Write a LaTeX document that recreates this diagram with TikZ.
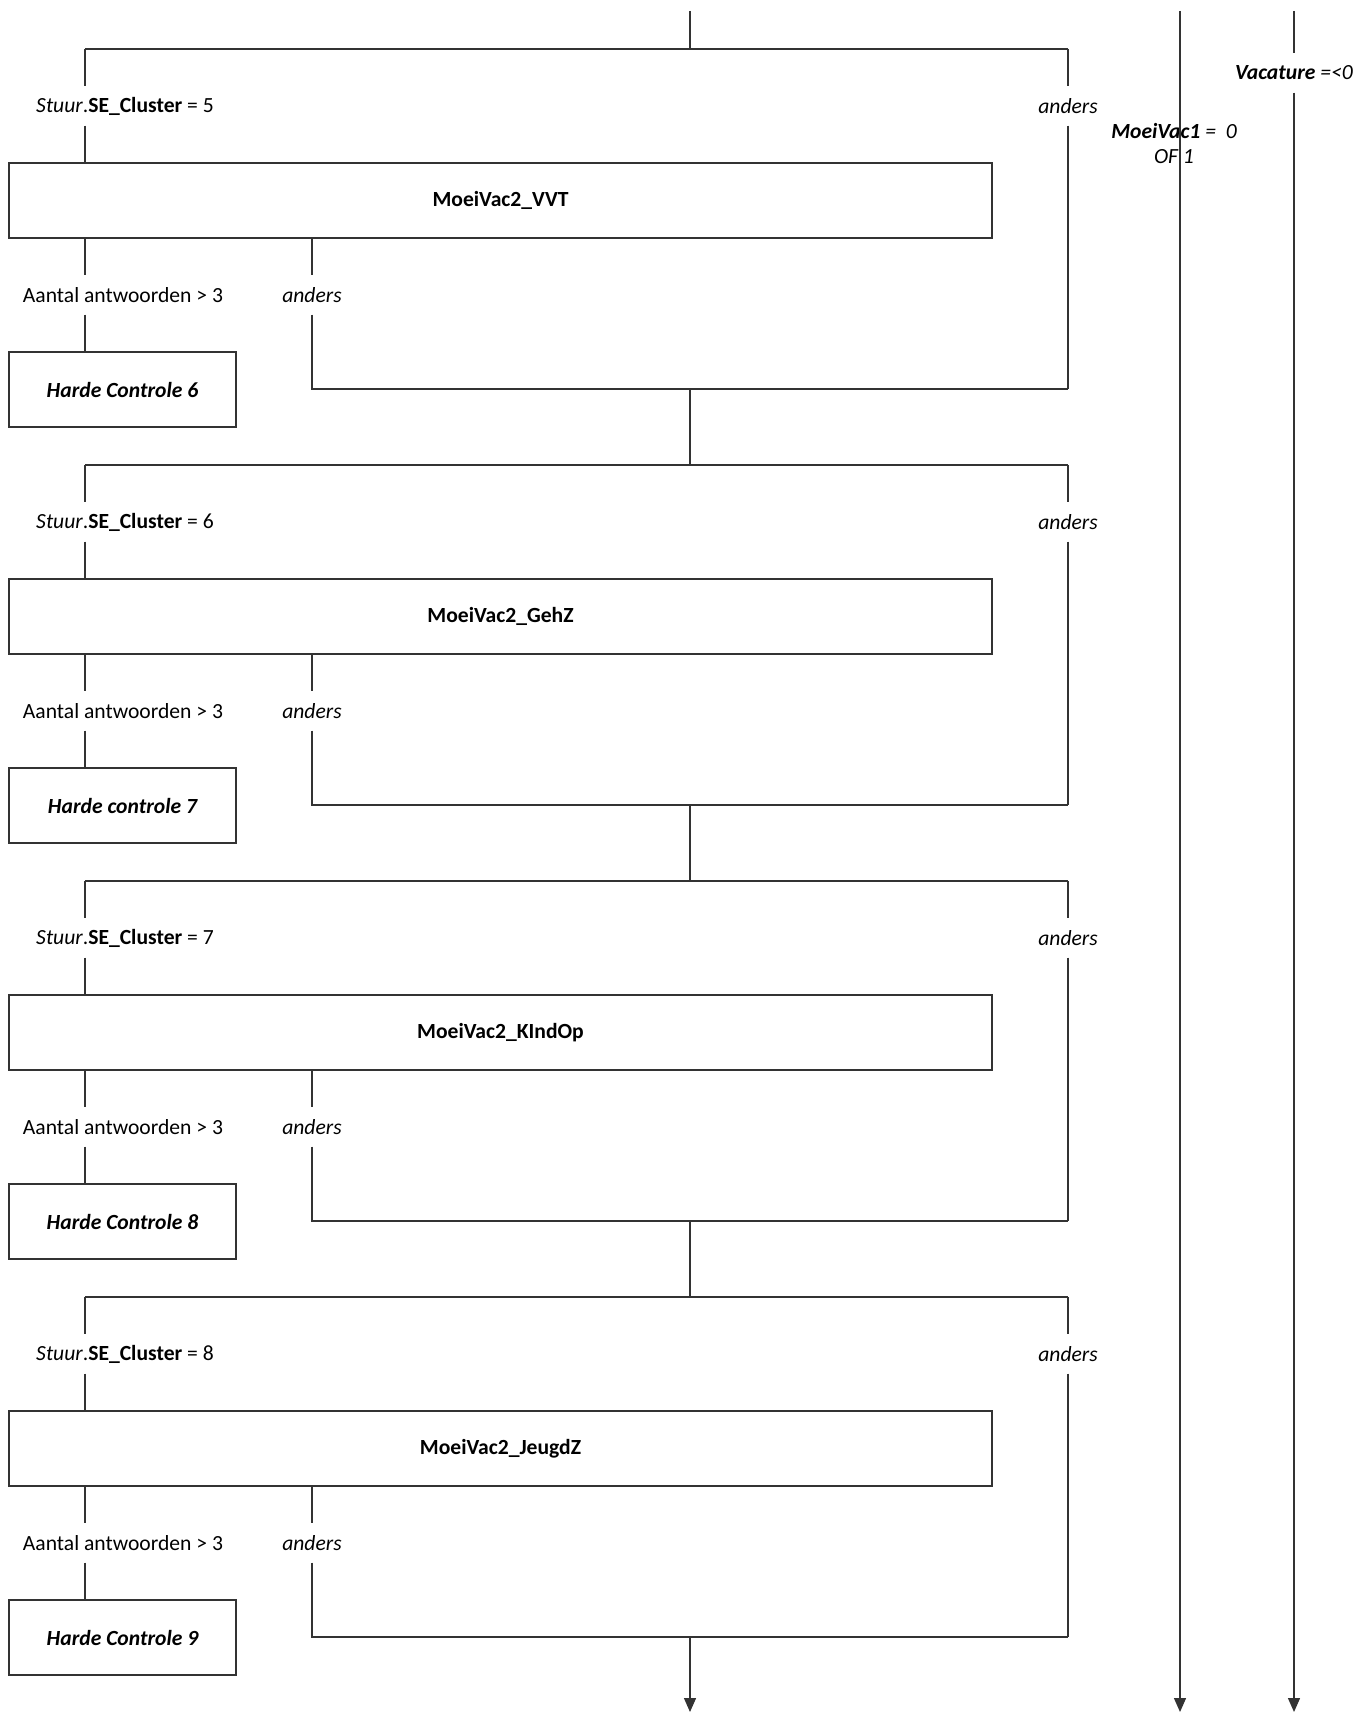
\documentclass[tikz,border=0pt]{standalone}
\usepackage{fontspec}
\setmainfont{Carlito}
\usetikzlibrary{arrows.meta}

\begin{document}
\begin{tikzpicture}[x=0.5pt,y=-0.5pt,every path/.style={line width=0.7pt,black!80},
    every node/.style={font=\fontsize{10.8}{13}\selectfont,text=black},
    lbl/.style={inner sep=0pt,minimum height=19pt},
    groot/.style={draw,minimum width=491.5pt,minimum height=37.5pt,inner sep=0pt,font=\fontsize{10.8}{13}\selectfont\bfseries},
    klein/.style={draw,minimum width=113.5pt,minimum height=37.5pt,inner sep=0pt,font=\fontsize{10.8}{13}\selectfont\bfseries\itshape},
    pijl/.style={-{Triangle[length=7pt,width=6pt]}}]
          \useasboundingbox (0,0) rectangle (1357,1712);

          \coordinate (t0) at (690,11);
          \coordinate (s1) at (690,49);
          \coordinate (l1) at (85,49);
          \coordinate (r1) at (1068,49);
          \node[lbl] (c1) at (125,106) {\textit{Stuur}.\textbf{SE\_Cluster} = 5};
          \node[lbl] (a1) at (1068,106) {\textit{anders}};
          \node[groot] (m1) at (500.5,200.5) {MoeiVac2\_VVT};
          \node[lbl] (n1) at (123,295) {Aantal antwoorden > 3};
          \node[lbl] (b1) at (312,295) {\textit{anders}};
          \node[klein] (h1) at (122.5,389.5) {Harde Controle 6};
          \coordinate (k1) at (1068,389);
          \coordinate (e1) at (690,389);

          \coordinate (s2) at (690,465);
          \coordinate (l2) at (85,465);
          \coordinate (r2) at (1068,465);
          \node[lbl] (c2) at (125,522) {\textit{Stuur}.\textbf{SE\_Cluster} = 6};
          \node[lbl] (a2) at (1068,522) {\textit{anders}};
          \node[groot] (m2) at (500.5,616.5) {MoeiVac2\_GehZ};
          \node[lbl] (n2) at (123,711) {Aantal antwoorden > 3};
          \node[lbl] (b2) at (312,711) {\textit{anders}};
          \node[klein] (h2) at (122.5,805.5) {Harde controle 7};
          \coordinate (k2) at (1068,805);
          \coordinate (e2) at (690,805);

          \coordinate (s3) at (690,881);
          \coordinate (l3) at (85,881);
          \coordinate (r3) at (1068,881);
          \node[lbl] (c3) at (125,938) {\textit{Stuur}.\textbf{SE\_Cluster} = 7};
          \node[lbl] (a3) at (1068,938) {\textit{anders}};
          \node[groot] (m3) at (500.5,1032.5) {MoeiVac2\_KIndOp};
          \node[lbl] (n3) at (123,1127) {Aantal antwoorden > 3};
          \node[lbl] (b3) at (312,1127) {\textit{anders}};
          \node[klein] (h3) at (122.5,1221.5) {Harde Controle 8};
          \coordinate (k3) at (1068,1221);
          \coordinate (e3) at (690,1221);

          \coordinate (s4) at (690,1297);
          \coordinate (l4) at (85,1297);
          \coordinate (r4) at (1068,1297);
          \node[lbl] (c4) at (125,1354) {\textit{Stuur}.\textbf{SE\_Cluster} = 8};
          \node[lbl] (a4) at (1068,1354) {\textit{anders}};
          \node[groot] (m4) at (500.5,1448.5) {MoeiVac2\_JeugdZ};
          \node[lbl] (n4) at (123,1543) {Aantal antwoorden > 3};
          \node[lbl] (b4) at (312,1543) {\textit{anders}};
          \node[klein] (h4) at (122.5,1637.5) {Harde Controle 9};
          \coordinate (k4) at (1068,1637);
          \coordinate (e4) at (690,1637);
          \coordinate (eind) at (690,1712);

          \coordinate (t5) at (1180,11);
          \coordinate (p5) at (1180,1712);
          \node[align=center,font=\fontsize{10.8}{12.5}\selectfont\itshape] (mv) at (1174,143) {\textbf{MoeiVac1} =\ \ 0\\OF 1};
          \coordinate (t6) at (1294,11);
          \node[lbl] (vc) at (1294,73) {\textbf{\textit{Vacature}} \textit{=<0}};
          \coordinate (p6) at (1294,1712);

          \draw (t0) -- (s1);
          \draw (l1) -- (r1);
          \draw (l1) -- (l1 |- c1.north);
          \draw (l1 |- c1.south) -- (l1 |- m1.north);
          \draw (r1) -- (a1);
          \draw (a1) -- (k1);
          \draw (l1 |- m1.south) -- (l1 |- n1.north);
          \draw (l1 |- n1.south) -- (l1 |- h1.north);
          \draw (b1 |- m1.south) -- (b1);
          \draw (b1) -- (b1 |- k1) -- (k1);
          \draw (e1) -- (s2);

          \draw (l2) -- (r2);
          \draw (l2) -- (l2 |- c2.north);
          \draw (l2 |- c2.south) -- (l2 |- m2.north);
          \draw (r2) -- (a2);
          \draw (a2) -- (k2);
          \draw (l2 |- m2.south) -- (l2 |- n2.north);
          \draw (l2 |- n2.south) -- (l2 |- h2.north);
          \draw (b2 |- m2.south) -- (b2);
          \draw (b2) -- (b2 |- k2) -- (k2);
          \draw (e2) -- (s3);

          \draw (l3) -- (r3);
          \draw (l3) -- (l3 |- c3.north);
          \draw (l3 |- c3.south) -- (l3 |- m3.north);
          \draw (r3) -- (a3);
          \draw (a3) -- (k3);
          \draw (l3 |- m3.south) -- (l3 |- n3.north);
          \draw (l3 |- n3.south) -- (l3 |- h3.north);
          \draw (b3 |- m3.south) -- (b3);
          \draw (b3) -- (b3 |- k3) -- (k3);
          \draw (e3) -- (s4);

          \draw (l4) -- (r4);
          \draw (l4) -- (l4 |- c4.north);
          \draw (l4 |- c4.south) -- (l4 |- m4.north);
          \draw (r4) -- (a4);
          \draw (a4) -- (k4);
          \draw (l4 |- m4.south) -- (l4 |- n4.north);
          \draw (l4 |- n4.south) -- (l4 |- h4.north);
          \draw (b4 |- m4.south) -- (b4);
          \draw (b4) -- (b4 |- k4) -- (k4);
          \draw[pijl] (e4) -- (eind);

          \draw[pijl] (t5) -- (p5);
          \draw (t6) -- (vc);
          \draw[pijl] (vc) -- (p6);
        \end{tikzpicture}
\end{document}
